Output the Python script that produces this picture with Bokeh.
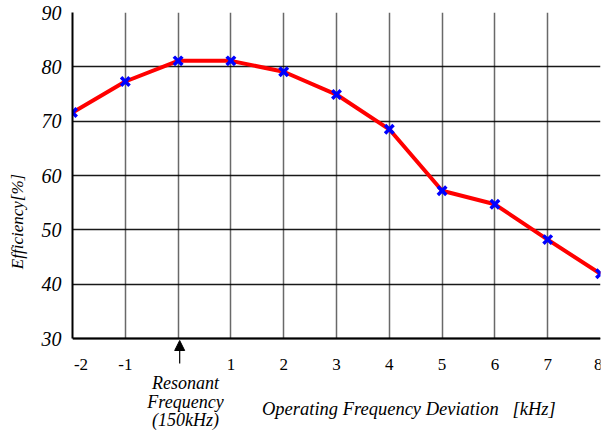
from bokeh.plotting import figure
from bokeh.models import FixedTicker, Label, Arrow, NormalHead, Range1d
from bokeh.embed import file_html
from bokeh.resources import INLINE

deviation_khz = [-2, -1, 0, 1, 2, 3, 4, 5, 6, 7, 8]
efficiency_pct = [71.6, 77.3, 81.1, 81.1, 79.1, 74.9, 68.5, 57.2, 54.7, 48.2, 41.9]
x_ticks = [-2, -1, 0, 1, 2, 3, 4, 5, 6, 7, 8]
y_ticks = [30, 40, 50, 60, 70, 80, 90]
x_tick_labels = {-2: "\u2003-2", -1: "-1", 0: ""}

SERIF = "Liberation Serif"
Y_MIN, Y_MAX = 30, 90
# frame is extended below the data area so that the annotations fit inside it
FRAME_TOP, AXIS_PX, FRAME_BOTTOM = 12, 338, 430
px_per_unit = (AXIS_PX - FRAME_TOP) / (Y_MAX - Y_MIN)
y_lo = Y_MAX - (FRAME_BOTTOM - FRAME_TOP) / px_per_unit


def yd(py):
    return Y_MAX - (py - FRAME_TOP) / px_per_unit


p = figure(width=602, height=FRAME_BOTTOM, output_backend="svg", toolbar_location=None,
           x_range=Range1d(-2, 8), y_range=Range1d(y_lo, Y_MAX),
           min_border_left=72, min_border_top=FRAME_TOP, min_border_right=2, min_border_bottom=0)
p.background_fill_color = "white"
p.border_fill_color = "white"
p.outline_line_color = None

p.xaxis.ticker = FixedTicker(ticks=x_ticks)
p.yaxis.ticker = FixedTicker(ticks=y_ticks)
p.xaxis.major_label_overrides = x_tick_labels
p.xaxis.fixed_location = Y_MIN
p.yaxis.bounds = (Y_MIN, Y_MAX)

for ax in (p.xaxis, p.yaxis):
    ax.axis_line_color = "black"
    ax.axis_line_width = 2
    ax.major_tick_line_color = None
    ax.minor_tick_line_color = None

p.xaxis.major_label_text_font = SERIF
p.xaxis.major_label_text_font_size = "17px"
p.xaxis.major_label_text_color = "black"
p.xaxis.major_label_standoff = 10

p.yaxis.major_label_text_font = SERIF
p.yaxis.major_label_text_font_style = "italic"
p.yaxis.major_label_text_font_size = "20px"
p.yaxis.major_label_text_color = "black"
p.yaxis.major_label_standoff = 5
p.yaxis.axis_label = "Efficiency[%]"
p.yaxis.axis_label_text_font = SERIF
p.yaxis.axis_label_text_font_style = "italic"
p.yaxis.axis_label_text_font_size = "17px"
p.yaxis.axis_label_text_color = "black"
p.yaxis.axis_label_standoff = 12

p.xgrid.grid_line_color = "#444444"
p.xgrid.grid_line_width = 1.5
p.xgrid.grid_line_alpha = 0.8
p.ygrid.grid_line_color = "black"
p.ygrid.grid_line_width = 1.5
p.ygrid.grid_line_alpha = 0.9
try:
    p.xgrid.cross_bounds = (Y_MIN, Y_MAX)
    p.ygrid.cross_bounds = (-2, 8)
except Exception:
    p.xgrid.visible = False
    p.segment(x0=x_ticks, y0=[Y_MIN] * len(x_ticks), x1=x_ticks, y1=[Y_MAX] * len(x_ticks),
              line_color="#444444", line_width=1.5, line_alpha=0.8)

p.line(deviation_khz, efficiency_pct, line_color="red", line_width=4)
p.scatter(deviation_khz, efficiency_pct, marker="x", size=12, line_color="blue", line_width=3.5)

# resonant frequency marker
p.add_layout(Arrow(end=NormalHead(size=10, fill_color="black", line_color="black"),
                   x_start=0.03, y_start=yd(363), x_end=0.03, y_end=yd(340),
                   line_color="black", line_width=1.2))
for txt, py in [("Resonant", 382), ("Frequency", 401), ("(150kHz)", 419)]:
    p.add_layout(Label(x=0.14, y=yd(py), text=txt, text_align="center", text_baseline="alphabetic",
                       text_font=SERIF, text_font_style="italic", text_font_size="18px",
                       text_color="black"))

p.add_layout(Label(x=4.37, y=yd(408), text="Operating Frequency Deviation\u00a0\u00a0\u00a0[kHz]",
                   text_align="center", text_baseline="alphabetic",
                   text_font=SERIF, text_font_style="italic", text_font_size="18.5px",
                   text_color="black"))

open("out.html", "w").write(file_html(p, INLINE))
